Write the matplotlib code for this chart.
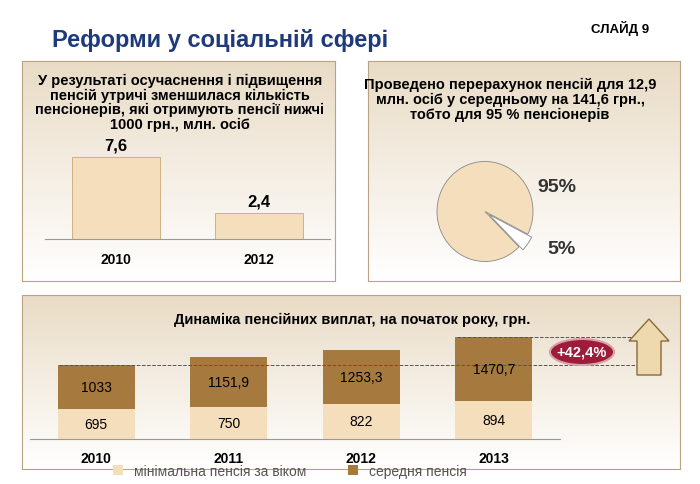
import matplotlib.pyplot as plt
from matplotlib.patches import Ellipse, FancyArrow
from matplotlib.colors import LinearSegmentedColormap
import numpy as np

plt.rcParams['font.family'] = ['Liberation Sans', 'DejaVu Sans']

W, H = 700, 485
years_a = ["2010", "2012"]
pens_low = [7.6, 2.4]
pie_vals = [95, 5]
years_b = ["2010", "2011", "2012", "2013"]
min_pension = [695, 750, 822, 894]
avg_pension = [1033, 1151.9, 1253.3, 1470.7]

light = "#F5DEBC"
brown = "#A67A3E"
edge = "#C9A875"

fig = plt.figure(figsize=(7, 4.85), dpi=100)
fig.patch.set_facecolor("white")

def fx(x): return x / W
def fy(y): return 1 - y / H

cmap = LinearSegmentedColormap.from_list("g", ["#E9DCC6", "#FFFFFF"])

def panel(x0, y0, x1, y1):
    ax = fig.add_axes([fx(x0), fy(y1), fx(x1 - x0), (y1 - y0) / H], zorder=0)
    grad = np.linspace(0, 1, 100).reshape(-1, 1)
    ax.imshow(grad, aspect="auto", extent=[0, 1, 0, 1], cmap=cmap)
    for s in ax.spines.values():
        s.set_color("#B9A385")
    ax.set_xticks([]); ax.set_yticks([])

fig.text(fx(52), fy(40), "Реформи у соціальній сфері", fontsize=17, fontweight="bold",
         color="#1F3A7A", va="center")
fig.text(fx(620), fy(28), "СЛАЙД 9", fontsize=9.5, fontweight="bold", ha="center", va="center")

# panel 1
panel(22, 62, 335, 282)
fig.text(fx(180), fy(103), "У результаті осучаснення і підвищення\nпенсій утричі зменшилася кількість\n"
         "пенсіонерів, які отримують пенсії нижчі\n1000 грн., млн. осіб",
         ha="center", va="center", fontsize=10.5, fontweight="bold", linespacing=1.05)
ax1 = fig.add_axes([fx(45), fy(240), fx(285), 100 / H], zorder=2)
ax1.patch.set_alpha(0)
ax1.bar([0, 1], pens_low, width=0.62, color=light, edgecolor=edge, linewidth=0.6)
for i, v in enumerate(pens_low):
    ax1.text(i, v + 0.4, f"{v}".replace(".", ","), ha="center", va="bottom", fontsize=12, fontweight="bold")
ax1.set_ylim(0, 9.27)
ax1.set_xlim(-0.5, 1.5)
ax1.set_xticks([0, 1], years_a, fontsize=10, fontweight="bold")
ax1.tick_params(length=0, pad=9)
ax1.set_yticks([])
for s in ["top", "right", "left"]:
    ax1.spines[s].set_visible(False)
ax1.spines["bottom"].set_color("#999999")

# panel 2
panel(368, 62, 680, 282)
fig.text(fx(510), fy(100), "Проведено перерахунок пенсій для 12,9\nмлн. осіб у середньому на 141,6 грн.,\n"
         "тобто для 95 % пенсіонерів",
         ha="center", va="center", fontsize=10.5, fontweight="bold", linespacing=1.05)
ax2 = fig.add_axes([fx(425), fy(275), fx(120), 125 / H], zorder=2)
ax2.pie(pie_vals, colors=[light, "white"], startangle=-27,
        explode=[0, 0.1], wedgeprops=dict(edgecolor="#888888", linewidth=0.6))
ax2.set_aspect("auto")
fig.text(fx(557), fy(188), "95%", fontsize=14, fontweight="bold", ha="center", va="center", color="#333333")
fig.text(fx(562), fy(250), "5%", fontsize=14, fontweight="bold", ha="center", va="center", color="#333333")

# panel 3
panel(22, 296, 680, 470)
fig.text(fx(352), fy(320), "Динаміка пенсійних виплат, на початок року, грн.",
         ha="center", va="center", fontsize=10.5, fontweight="bold")
ax3 = fig.add_axes([fx(30), fy(440), fx(530), (440 - 330) / H], zorder=2)
ax3.patch.set_alpha(0)
x = np.arange(4)
ax3.bar(x, min_pension, width=0.58, color=light, label="мінімальна пенсія за віком")
ax3.bar(x, avg_pension, width=0.58, bottom=min_pension, color=brown, label="середня пенсія")
for i in range(4):
    ax3.text(i, min_pension[i] / 2, f"{min_pension[i]:g}", ha="center", va="center", fontsize=10)
    ax3.text(i, min_pension[i] + avg_pension[i] / 2, f"{avg_pension[i]:g}".replace(".", ","),
             ha="center", va="center", fontsize=10)
ax3.set_ylim(0, 2560)
ax3.set_xlim(-0.5, 3.5)
ax3.set_xticks(x, years_b, fontsize=10, fontweight="bold")
ax3.tick_params(length=0, pad=9)
ax3.set_yticks([])
for s in ["top", "right", "left"]:
    ax3.spines[s].set_visible(False)
ax3.spines["bottom"].set_color("#999999")
tot0 = min_pension[0] + avg_pension[0]
tot3 = min_pension[3] + avg_pension[3]
ax3.plot([-0.28, 4.1], [tot0, tot0], ls="--", color="#555555", lw=0.7, clip_on=False)
ax3.plot([2.72, 4.1], [tot3, tot3], ls="--", color="#555555", lw=0.7, clip_on=False)
fig.legend(*ax3.get_legend_handles_labels(), loc="center", bbox_to_anchor=(fx(290), fy(472)),
           ncol=2, frameon=False, fontsize=10, handlelength=0.7, handleheight=0.7,
           columnspacing=3, borderpad=0)
for t in fig.legends[0].get_texts():
    t.set_color("#555555")

ov = fig.add_axes([0, 0, 1, 1], zorder=3)
ov.set_xlim(0, W); ov.set_ylim(H, 0); ov.axis("off")
ov.add_patch(Ellipse((582, 353), 64, 26, facecolor="#9E1B3A", edgecolor="#D9A0A8", lw=1.5))
ov.text(582, 353, "+42,4%", color="white", fontsize=10.5, fontweight="bold", ha="center", va="center")
ov.add_patch(FancyArrow(649, 376, 0, -56, width=24, head_width=40, head_length=22,
                        length_includes_head=True, facecolor="#EED9AE", edgecolor="#8A6A3A", lw=1))

fig.savefig("out.png", dpi=100)
